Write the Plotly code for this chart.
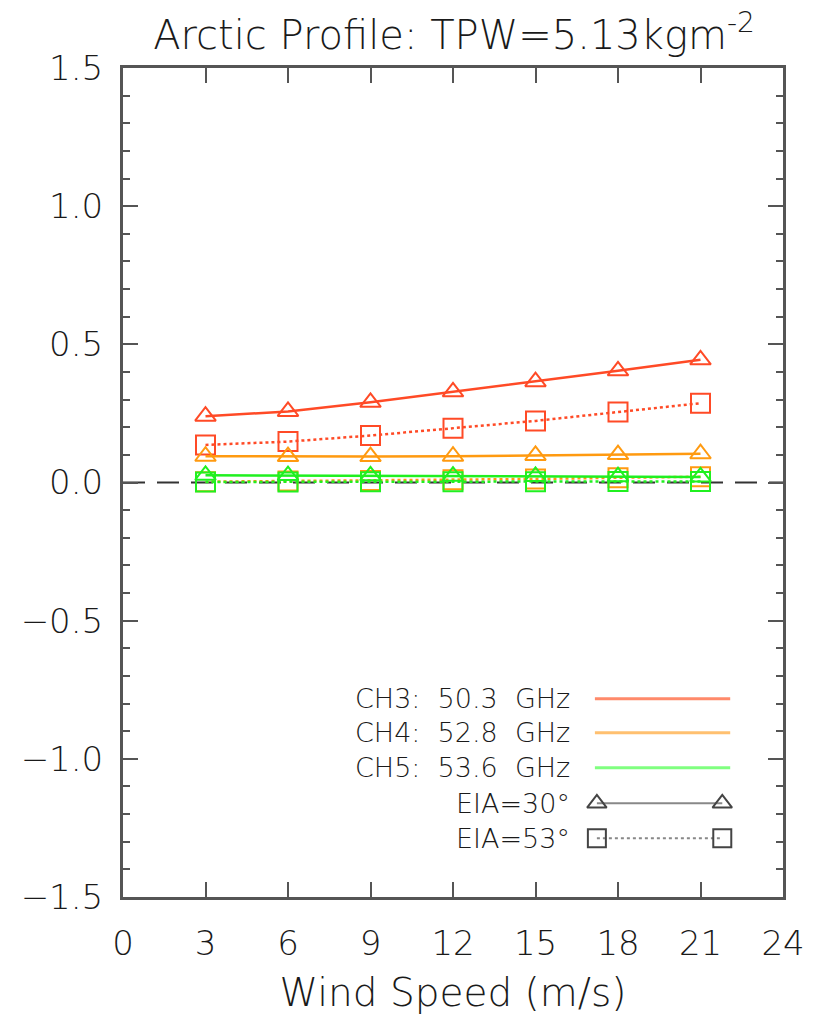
import plotly.graph_objects as go

# Wind speed (m/s) and brightness-temperature sensitivity per channel / incidence angle
wind_speed = [3, 6, 9, 12, 15, 18, 21]

ch3_eia30 = [0.240, 0.257, 0.290, 0.328, 0.365, 0.404, 0.444]
ch3_eia53 = [0.136, 0.148, 0.170, 0.196, 0.223, 0.255, 0.287]
ch4_eia30 = [0.095, 0.094, 0.094, 0.095, 0.098, 0.101, 0.104]
ch4_eia53 = [0.003, 0.005, 0.007, 0.010, 0.013, 0.017, 0.021]
ch5_eia30 = [0.026, 0.025, 0.024, 0.023, 0.022, 0.021, 0.020]
ch5_eia53 = [0.002, 0.002, 0.003, 0.003, 0.003, 0.004, 0.004]

channel_labels = ["CH3:  50.3  GHz", "CH4:  52.8  GHz", "CH5:  53.6  GHz"]
angle_labels = ["EIA=30°", "EIA=53°"]
x_ticks = [0, 3, 6, 9, 12, 15, 18, 21, 24]
y_ticks = [-1.5, -1.0, -0.5, 0.0, 0.5, 1.0, 1.5]

CH3_COLOR = "#ff4a26"
CH4_COLOR = "#ff9a10"
CH5_COLOR = "#20f020"
CH3_LEG = "#ff8a6a"
CH4_LEG = "#ffc070"
CH5_LEG = "#80ff80"
AXIS_COLOR = "#555555"
FONT = "DejaVu Sans"
TEXT_COLOR = "#1a1a1a"


def txt(size):
    return dict(family=FONT, size=size, color=TEXT_COLOR, weight=200)


fig = go.Figure()

series = [
    (ch3_eia30, CH3_COLOR, "solid", "triangle-up-open", 18),
    (ch3_eia53, CH3_COLOR, "dot", "square-open", 19),
    (ch4_eia30, CH4_COLOR, "solid", "triangle-up-open", 18),
    (ch4_eia53, CH4_COLOR, "dot", "square-open", 19),
    (ch5_eia30, CH5_COLOR, "solid", "triangle-up-open", 18),
    (ch5_eia53, CH5_COLOR, "dot", "square-open", 19),
]
for vals, color, dash, symbol, size in series:
    fig.add_trace(go.Scatter(
        x=wind_speed, y=vals, mode="lines+markers",
        line=dict(color=color, width=2.5, dash=dash),
        marker=dict(symbol=symbol, size=size, color=color, line=dict(width=2, color=color)),
        showlegend=False, hoverinfo="skip",
    ))

# Key drawn inside the plot on an overlay axis spanning [0, 1]
key_rows = [0.239, 0.198, 0.156, 0.113, 0.071]
for label, color, yk in zip(channel_labels, [CH3_LEG, CH4_LEG, CH5_LEG], key_rows[:3]):
    fig.add_trace(go.Scatter(
        x=[0.715, 0.92], y=[yk, yk], mode="lines", xaxis="x2", yaxis="y2",
        line=dict(color=color, width=3), showlegend=False, hoverinfo="skip",
    ))
    fig.add_annotation(x=0.68, y=yk, xref="x2", yref="y2", text=label, showarrow=False,
                       xanchor="right", yanchor="middle", font=txt(27))

for label, dash, symbol, size, yk in zip(angle_labels, ["solid", "dot"],
                                          ["triangle-up-open", "square-open"], [17, 18], key_rows[3:]):
    fig.add_trace(go.Scatter(
        x=[0.718, 0.908], y=[yk, yk], mode="lines+markers", xaxis="x2", yaxis="y2",
        line=dict(color="#888888", width=2, dash=dash),
        marker=dict(symbol=symbol, size=size, color="#444444", line=dict(width=2, color="#444444")),
        showlegend=False, hoverinfo="skip",
    ))
    fig.add_annotation(x=0.68, y=yk, xref="x2", yref="y2", text=label, showarrow=False,
                       xanchor="right", yanchor="middle", font=txt(27))

# Zero reference line
fig.add_shape(type="line", xref="x domain", yref="y", x0=0, x1=1, y0=0, y1=0,
              line=dict(color="#333333", width=2, dash="22px,12px"), layer="below")

fig.update_layout(
    width=821, height=1015,
    margin=dict(l=123, r=38, t=68, b=118),
    paper_bgcolor="white", plot_bgcolor="white",
    font=txt(34),
    title=dict(text="Arctic Profile: TPW=5.13kgm<sup>-2</sup>", x=0.553, xanchor="center",
               y=0.966, yanchor="middle", font=txt(40)),
    xaxis=dict(
        range=[0, 24], tickmode="array", tickvals=x_ticks, ticktext=[str(t) for t in x_ticks],
        ticks="inside", ticklen=15, tickwidth=2, tickcolor=AXIS_COLOR,
        showline=True, linecolor=AXIS_COLOR, linewidth=3, mirror="allticks",
        showgrid=False, zeroline=False, ticklabelstandoff=14, automargin=False,
        title=dict(text="Wind Speed (m/s)", standoff=20, font=txt(39)),
        tickfont=txt(34),
    ),
    yaxis=dict(
        range=[-1.5, 1.5], tickmode="array", tickvals=y_ticks, tickformat=".1f",
        ticks="inside", ticklen=15, tickwidth=2, tickcolor=AXIS_COLOR,
        minor=dict(dtick=0.1, ticks="inside", ticklen=7, tickwidth=2, tickcolor=AXIS_COLOR),
        showline=True, linecolor=AXIS_COLOR, linewidth=3, mirror="allticks",
        showgrid=False, zeroline=False, ticklabelstandoff=10, automargin=False,
        tickfont=txt(34),
    ),
    xaxis2=dict(range=[0, 1], overlaying="x", visible=False, fixedrange=True),
    yaxis2=dict(range=[0, 1], overlaying="y", visible=False, fixedrange=True),
    showlegend=False,
)

fig.write_html("out.html")
